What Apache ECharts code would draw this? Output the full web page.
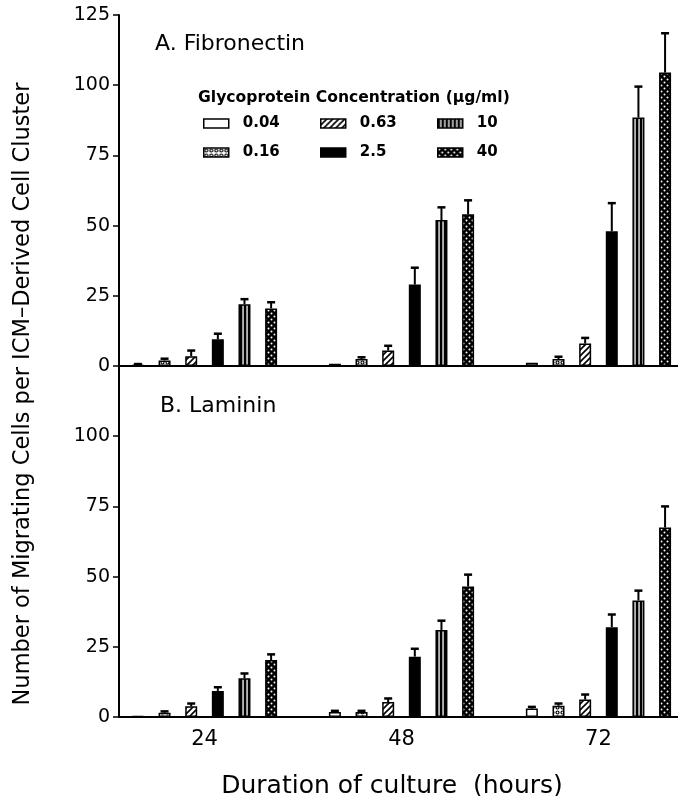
<!DOCTYPE html>
<html>
<head>
<meta charset="utf-8">
<script src="https://cdn.jsdelivr.net/npm/echarts@6/dist/echarts.min.js"></script>
<style>
  html, body { margin: 0; padding: 0; background: #fff; }
  #main { width: 678px; height: 796px; }
</style>
</head>
<body>
<div id="main"></div>
<script>
// culture durations (hours) and glycoprotein concentrations (ug/ml)
const hours = [24, 48, 72];
const concentrations = ['0.04', '0.16', '0.63', '2.5', '10', '40'];

// A. Fibronectin - rows follow concentrations, columns follow hours
const fibMean = [
  [0.5, 0.8, 1.2],
  [2, 2.5, 2.5],
  [3.5, 5.5, 8],
  [9.5, 29, 48],
  [22, 52, 88.5],
  [20.5, 54, 104.5]
];
const fibErr = [
  [0.2, 0, 0],
  [0.6, 0.6, 0.8],
  [2, 1.7, 2],
  [2, 6, 10],
  [1.8, 4.5, 11],
  [2.2, 5, 14]
];

// B. Laminin
const lamMean = [
  [0.3, 1.8, 3],
  [1.5, 1.8, 4],
  [3.8, 5.3, 6.2],
  [9.3, 21.5, 32],
  [13.8, 31, 41.5],
  [20.3, 46.5, 67.5]
];
const lamErr = [
  [0, 0.4, 0.6],
  [0.5, 0.4, 0.8],
  [1, 1.3, 1.8],
  [1.3, 2.8, 4.5],
  [1.7, 3.3, 3.5],
  [2, 4.2, 7.5]
];

const yTicks = [0, 25, 50, 75, 100, 125];

const FONT = 'DejaVu Sans';
const BAR_W = 12;
const BAR_GAP = 1.22;
const STEP = BAR_W * (1 + BAR_GAP);

// fill patterns, one per concentration
function tile(w, h, draw) {
  const c = document.createElement('canvas');
  c.width = w; c.height = h;
  draw(c.getContext('2d'));
  return { image: c, repeat: 'repeat' };
}
const fills = [
  '#ffffff',
  tile(5, 5, g => {
    g.fillStyle = '#fff'; g.fillRect(0, 0, 5, 5);
    g.strokeStyle = '#000'; g.lineWidth = 1.2;
    g.beginPath(); g.arc(2.5, 2.5, 1.5, 0, Math.PI * 2); g.stroke();
  }),
  tile(6, 6, g => {
    g.fillStyle = '#fff'; g.fillRect(0, 0, 6, 6);
    g.strokeStyle = '#000'; g.lineWidth = 1.6;
    g.beginPath();
    g.moveTo(0, 6); g.lineTo(6, 0);
    g.moveTo(-3, 3); g.lineTo(3, -3);
    g.moveTo(3, 9); g.lineTo(9, 3);
    g.stroke();
  }),
  '#000000',
  tile(4, 4, g => {
    g.fillStyle = '#000'; g.fillRect(0, 0, 4, 4);
    g.fillStyle = '#fff'; g.fillRect(2.4, 0, 1.3, 4);
  }),
  tile(6, 6, g => {
    g.fillStyle = '#000'; g.fillRect(0, 0, 6, 6);
    g.fillStyle = '#fff';
    g.beginPath(); g.arc(1.5, 1.5, 1, 0, Math.PI * 2); g.fill();
    g.beginPath(); g.arc(4.5, 4.5, 1, 0, Math.PI * 2); g.fill();
  })
];

function barSeries(mean, idx) {
  return concentrations.map((name, i) => ({
    name: name,
    type: 'bar',
    xAxisIndex: idx,
    yAxisIndex: idx,
    barWidth: BAR_W,
    barGap: (BAR_GAP * 100) + '%',
    itemStyle: { color: fills[i], borderColor: '#000', borderWidth: 1.5 },
    data: hours.map((h, j) => [h, mean[i][j]])
  }));
}

function errSeries(mean, err, idx) {
  const data = [];
  concentrations.forEach((c, i) => {
    hours.forEach((h, j) => {
      if (err[i][j] > 0) data.push([h, mean[i][j], err[i][j], i]);
    });
  });
  return {
    type: 'custom',
    xAxisIndex: idx,
    yAxisIndex: idx,
    z: 5,
    encode: { x: 0, y: 1 },
    data: data,
    renderItem: function (params, api) {
      const x = api.value(0), y = api.value(1), e = api.value(2), k = api.value(3);
      const p = api.coord([x, y]);
      const q = api.coord([x, y + e]);
      const cx = p[0] + (k - 2.5) * STEP;
      return {
        type: 'group',
        children: [
          { type: 'line', shape: { x1: cx, y1: p[1], x2: cx, y2: q[1] },
            style: { stroke: '#000', lineWidth: 2 } },
          { type: 'line', shape: { x1: cx - 4, y1: q[1], x2: cx + 4, y2: q[1] },
            style: { stroke: '#000', lineWidth: 2.5 } }
        ]
      };
    }
  };
}

function xAxis(idx, showLabels) {
  return {
    type: 'value',
    gridIndex: idx,
    min: 13.58,
    max: 81.69,
    axisLine: { show: true, lineStyle: { color: '#000', width: 2 } },
    axisTick: { show: false },
    splitLine: { show: false },
    axisLabel: {
      show: showLabels,
      customValues: hours,
      margin: 12,
      color: '#000',
      fontFamily: FONT,
      fontSize: 21
    }
  };
}

function yAxis(idx, hideTop) {
  return {
    type: 'value',
    gridIndex: idx,
    min: yTicks[0],
    max: yTicks[yTicks.length - 1],
    interval: 25,
    axisLine: { show: true, lineStyle: { color: '#000', width: 2 } },
    axisTick: { show: true, length: 6, lineStyle: { color: '#000', width: 1.5 } },
    splitLine: { show: false },
    axisLabel: {
      margin: 9,
      color: '#000',
      fontFamily: FONT,
      fontSize: 19,
      formatter: v => (hideTop && v === 125 ? '' : String(v))
    }
  };
}

const legendBase = {
  orient: 'vertical',
  top: 111,
  icon: 'rect',
  itemWidth: 25,
  itemHeight: 9,
  itemGap: 14,
  selectedMode: false,
  itemStyle: { borderColor: '#000', borderWidth: 1.5 },
  textStyle: { fontFamily: FONT, fontWeight: 'bold', fontSize: 15, color: '#000', padding: [0, 0, 0, 9] }
};

const chart = echarts.init(document.getElementById('main'));
chart.setOption({
  animation: false,
  backgroundColor: '#fff',
  grid: [
    { left: 119, right: 0, top: 15, height: 351 },
    { left: 119, right: 0, top: 366, height: 351 }
  ],
  xAxis: [xAxis(0, false), xAxis(1, true)],
  yAxis: [yAxis(0, false), yAxis(1, true)],
  legend: [
    Object.assign({}, legendBase, { left: 198, data: ['0.04', '0.16'] }),
    Object.assign({}, legendBase, { left: 315, data: ['0.63', '2.5'] }),
    Object.assign({}, legendBase, { left: 432, data: ['10', '40'] })
  ],
  graphic: [
    { type: 'text', x: 155, y: 44,
      style: { text: 'A. Fibronectin', font: '22px "DejaVu Sans"', fill: '#000', textVerticalAlign: 'middle' } },
    { type: 'text', x: 160, y: 406,
      style: { text: 'B. Laminin', font: '22px "DejaVu Sans"', fill: '#000', textVerticalAlign: 'middle' } },
    { type: 'text', x: 198, y: 98,
      style: { text: 'Glycoprotein Concentration (μg/ml)', font: 'bold 15.6px "DejaVu Sans"', fill: '#000', textVerticalAlign: 'middle' } },
    { type: 'text', x: 392, y: 786,
      style: { text: 'Duration of culture  (hours)', font: '25px "DejaVu Sans"', fill: '#000', textAlign: 'center', textVerticalAlign: 'middle' } },
    { type: 'text', x: 23, y: 394, rotation: Math.PI / 2,
      style: { text: 'Number of Migrating Cells per ICM–Derived Cell Cluster', font: '22.5px "DejaVu Sans"', fill: '#000', textAlign: 'center', textVerticalAlign: 'middle' } }
  ],
  series: [].concat(
    barSeries(fibMean, 0),
    barSeries(lamMean, 1),
    [errSeries(fibMean, fibErr, 0), errSeries(lamMean, lamErr, 1)]
  )
});
</script>
</body>
</html>
